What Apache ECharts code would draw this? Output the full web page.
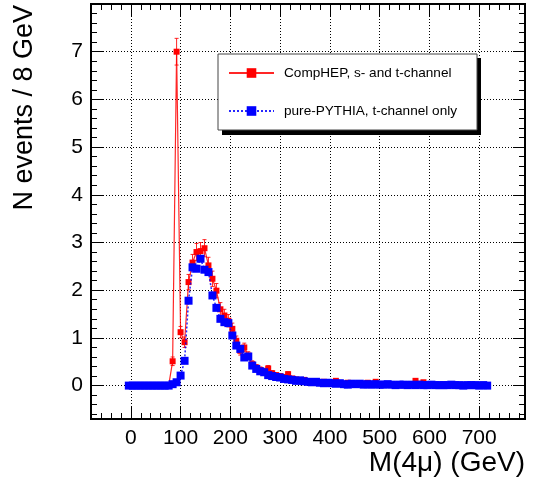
<!DOCTYPE html>
<html>
<head>
<meta charset="utf-8">
<script src="https://cdn.jsdelivr.net/npm/echarts@6/dist/echarts.min.js"></script>
<style>
  html, body { margin: 0; padding: 0; background: #fff; }
  #chart { width: 535px; height: 482px; }
</style>
</head>
<body>
<div id="chart"></div>
<script>
// 8 GeV bins, first centre at -4 GeV
const binStart = -4;
const binWidth = 8;

const compHep = [
  0, 0, 0, 0, 0, 0, 0, 0, 0, 0,
  0, 0.51, 7.0, 1.12, 0.91, 2.17, 2.58, 2.80, 2.82, 2.88,
  2.52, 2.24, 1.99, 1.60, 1.47, 1.36, 1.19, 0.94, 0.73, 0.80,
  0.63, 0.45, 0.38, 0.33, 0.30, 0.36, 0.26, 0.22, 0.20, 0.18,
  0.24, 0.15, 0.13, 0.11, 0.12, 0.08, 0.09, 0.07, 0.06, 0.08,
  0.05, 0.07, 0.10, 0.04, 0.03, 0.06, 0.04, 0.03, 0.05, 0.04,
  0.06, 0.03, 0.08, 0.02, 0.03, 0.02, 0.03, 0.02, 0.02, 0.01,
  0.03, 0.02, 0.10, 0.04, 0.07, 0.03, 0.01, 0.02, 0.01, 0.02,
  0.01, 0.01, 0.02, 0.01, 0.01, 0.01, 0.01, 0.00, 0.01, 0.01,
  0.00
];

const compHepErr = [
  0, 0, 0, 0, 0, 0, 0, 0, 0, 0,
  0, 0.09, 0.28, 0.12, 0.11, 0.16, 0.17, 0.18, 0.18, 0.18,
  0.17, 0.16, 0.15, 0.14, 0.13, 0.13, 0.12, 0.10, 0.09, 0.09,
  0.08, 0.07, 0.06, 0.06, 0.06, 0.06, 0.05, 0.05, 0.05, 0.04,
  0.05, 0.04, 0.04, 0.04, 0.04, 0.03, 0.03, 0.03, 0.03, 0.03,
  0.03, 0.03, 0.03, 0.02, 0.02, 0.03, 0.02, 0.02, 0.03, 0.02,
  0.03, 0.02, 0.03, 0.02, 0.02, 0.02, 0.02, 0.02, 0.02, 0.01,
  0.02, 0.02, 0.03, 0.02, 0.03, 0.02, 0.01, 0.02, 0.01, 0.02,
  0.01, 0.01, 0.02, 0.01, 0.01, 0.01, 0.01, 0, 0.01, 0.01,
  0
];

const pythia = [
  0, 0, 0, 0, 0, 0, 0, 0, 0, 0,
  0, 0.03, 0.07, 0.21, 0.52, 1.78, 2.48, 2.45, 2.66, 2.43,
  2.38, 1.89, 1.63, 1.40, 1.33, 1.31, 1.05, 0.84, 0.77, 0.59,
  0.61, 0.42, 0.35, 0.30, 0.28, 0.22, 0.20, 0.18, 0.17, 0.14,
  0.13, 0.12, 0.10, 0.11, 0.09, 0.08, 0.07, 0.08, 0.06, 0.05,
  0.06, 0.05, 0.04, 0.05, 0.03, 0.02, 0.04, 0.03, 0.04, 0.02,
  0.03, 0.02, 0.03, 0.02, 0.02, 0.03, 0.02, 0.01, 0.02, 0.02,
  0.01, 0.02, 0.01, 0.02, 0.01, 0.01, 0.02, 0.01, 0.01, 0.01,
  0.01, 0.02, 0.01, 0.01, 0.00, 0.01, 0.01, 0.01, 0.00, 0.01,
  0.00
];

const xTickLabels = ['0', '100', '200', '300', '400', '500', '600', '700'];
const seriesNames = ['CompHEP, s- and t-channel', 'pure-PYTHIA, t-channel only'];

const font = 'Liberation Sans, Arial, Helvetica, sans-serif';
const xMin = -80, xMax = 792;
const yMin = -0.7, yMax = 8;

const binCenters = compHep.map((v, i) => binStart + i * binWidth);
const redPoints = compHep.map((v, i) => [binCenters[i], v]);
const redErrPoints = compHep.map((v, i) => [binCenters[i], v, compHepErr[i]]);
const bluePoints = pythia.map((v, i) => [binCenters[i], v]);

function frameAxis(kind, pos, step, len, extra) {
  const isX = kind === 'x';
  return Object.assign({
    type: 'value',
    position: pos,
    min: isX ? xMin : yMin,
    max: isX ? xMax : yMax,
    splitNumber: isX ? (step === 100 ? 9 : 44) : (step === 1 ? 9 : 44),
    minInterval: step,
    maxInterval: step,
    axisLine: { show: true, onZero: false, lineStyle: { color: '#000', width: 2 } },
    axisTick: { show: true, inside: true, length: len, lineStyle: { color: '#000', width: 1 } },
    axisLabel: { show: false },
    splitLine: { show: false }
  }, extra || {});
}

const chart = echarts.init(document.getElementById('chart'));

chart.setOption({
  animation: false,
  backgroundColor: '#fff',
  grid: { left: 91, top: 4, right: 10, bottom: 63, containLabel: false },
  xAxis: [
    frameAxis('x', 'bottom', 100, 12, {
      axisLabel: {
        show: true, margin: 9, color: '#000', fontFamily: font, fontSize: 21,
        showMinLabel: false, showMaxLabel: false,
        formatter: v => xTickLabels.includes(String(v)) ? String(v) : ''
      },
      splitLine: { show: true, lineStyle: { color: '#000', width: 1, type: [1, 2] } }
    }),
    frameAxis('x', 'bottom', 20, 6),
    frameAxis('x', 'top', 100, 12),
    frameAxis('x', 'top', 20, 6)
  ],
  yAxis: [
    frameAxis('y', 'left', 1, 12, {
      axisLabel: {
        show: true, margin: 8, color: '#000', fontFamily: font, fontSize: 21,
        showMinLabel: false, showMaxLabel: false
      },
      splitLine: { show: true, lineStyle: { color: '#000', width: 1, type: [1, 2] } }
    }),
    frameAxis('y', 'left', 0.2, 6),
    frameAxis('y', 'right', 1, 12),
    frameAxis('y', 'right', 0.2, 6)
  ],
  legend: {
    data: seriesNames,
    orient: 'vertical',
    left: 218,
    top: 54,
    padding: [12, 20, 12, 10],
    itemGap: 24,
    itemWidth: 45,
    itemHeight: 12,
    backgroundColor: '#fff',
    borderColor: '#444',
    borderWidth: 1,
    borderRadius: 0,
    z: 10,
    textStyle: { color: '#000', fontFamily: font, fontSize: 13.6, padding: [0, 0, 0, 5] }
  },
  series: [
    {
      name: 'errors',
      type: 'custom',
      xAxisIndex: 0,
      yAxisIndex: 0,
      z: 2,
      data: redErrPoints,
      renderItem: function (params, api) {
        const e = api.value(2);
        if (!e) return null;
        const x = api.value(0), y = api.value(1);
        const top = api.coord([x, y + e]);
        const bot = api.coord([x, y - e]);
        const st = { stroke: 'rgba(255,0,0,0.85)', lineWidth: 1 };
        return {
          type: 'group',
          children: [
            { type: 'line', shape: { x1: top[0], y1: top[1], x2: bot[0], y2: bot[1] }, style: st },
            { type: 'line', shape: { x1: top[0] - 2, y1: top[1], x2: top[0] + 2, y2: top[1] }, style: st },
            { type: 'line', shape: { x1: bot[0] - 2, y1: bot[1], x2: bot[0] + 2, y2: bot[1] }, style: st }
          ]
        };
      }
    },
    {
      name: seriesNames[0],
      type: 'line',
      xAxisIndex: 0,
      yAxisIndex: 0,
      z: 3,
      data: redPoints,
      symbol: 'rect',
      symbolSize: 6,
      showAllSymbol: true,
      color: '#ff0000',
      itemStyle: { color: '#ff0000' },
      lineStyle: { color: 'rgba(255,0,0,0.85)', width: 1.2 }
    },
    {
      name: seriesNames[1],
      type: 'line',
      xAxisIndex: 0,
      yAxisIndex: 0,
      z: 4,
      data: bluePoints,
      symbol: 'rect',
      symbolSize: 8,
      showAllSymbol: true,
      color: '#0000ff',
      itemStyle: { color: '#0000ff' },
      lineStyle: { color: 'rgba(0,0,255,0.85)', width: 1.5, type: [2, 2] }
    }
  ],
  graphic: [
    {
      // hard black drop shadow of the legend box
      type: 'rect',
      z: 9,
      shape: { x: 222, y: 58, width: 259, height: 77 },
      style: { fill: '#000' }
    },
    {
      type: 'text',
      x: 25, y: 5,
      rotation: Math.PI / 2,
      style: {
        text: 'N events / 8 GeV', fill: '#000', font: '27px ' + font,
        textAlign: 'right', textVerticalAlign: 'middle'
      }
    },
    {
      type: 'text',
      x: 525, y: 463,
      style: {
        text: 'M(4μ) (GeV)', fill: '#000', font: '28px ' + font,
        textAlign: 'right', textVerticalAlign: 'middle'
      }
    }
  ]
});
</script>
</body>
</html>
